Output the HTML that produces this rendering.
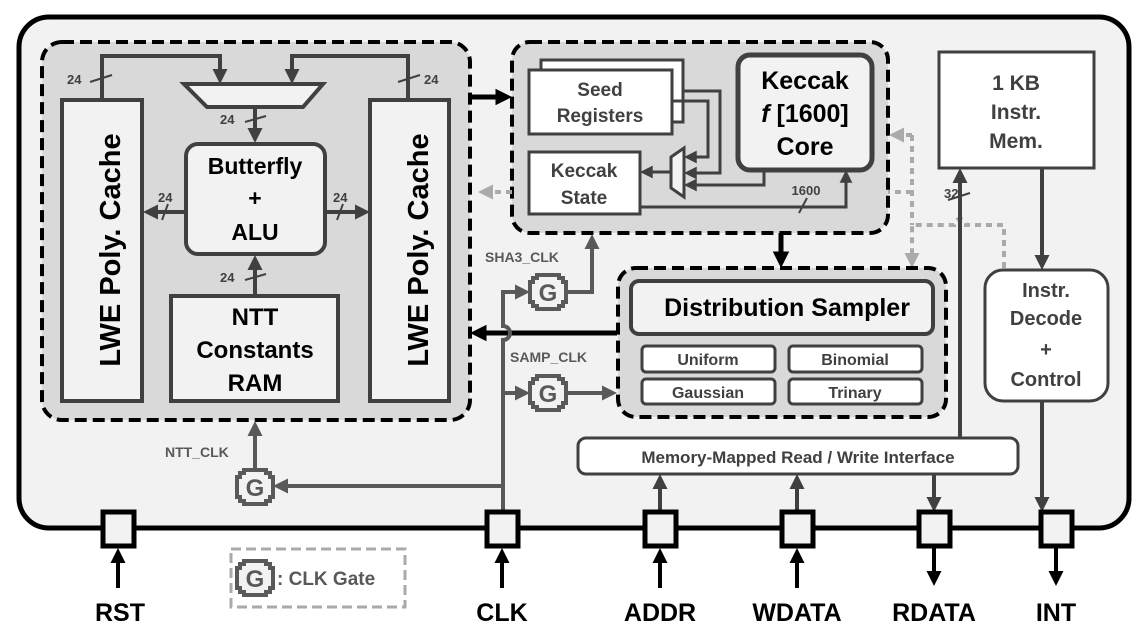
<!DOCTYPE html>
<html><head><meta charset="utf-8"><style>
html,body{margin:0;padding:0;background:#fff;}
svg{display:block;font-family:"Liberation Sans",sans-serif;font-weight:bold;}
</style></head><body>
<svg width="1145" height="639" viewBox="0 0 1145 639" xmlns="http://www.w3.org/2000/svg">
<defs>
<path id="a" d="M0,0 L-15,-7.5 L-15,7.5 z"/>
<g id="gate"><path d="M-11,-17 H11 V-14 H15 V-10 H18 V10 H15 V14 H11 V17 H-11 V14 H-15 V10 H-18 V-10 H-15 V-14 H-11 z" fill="#f2f2f2" stroke="#595959" stroke-width="4"/><text x="0" y="9" font-size="24" text-anchor="middle" fill="#595959">G</text></g>
</defs>
<rect width="1145" height="639" fill="#fff"/>
<rect x="19" y="17" width="1110" height="511" rx="30" fill="#f2f2f2" stroke="#000" stroke-width="5"/>

<rect x="42" y="42" width="428" height="378" rx="20" fill="#d9d9d9" stroke="#000" stroke-width="4" stroke-dasharray="12,6"/>
<g stroke="#404040" stroke-width="4" fill="none">
<path d="M102,100 V56 H220 V74"/>
<path d="M408,100 V56 H292 V74"/>
<path d="M255,107 V133"/>
<path d="M185,212 H153"/>
<path d="M325,212 H360"/>
<path d="M255,295 V265"/>
</g>
<g fill="#404040">
<use href="#a" transform="translate(220,84) rotate(90)"/>
<use href="#a" transform="translate(292,84) rotate(90)"/>
<use href="#a" transform="translate(255,143) rotate(90)"/>
<use href="#a" transform="translate(143,212) rotate(180)"/>
<use href="#a" transform="translate(370,212)"/>
<use href="#a" transform="translate(255,255) rotate(-90)"/>
</g>
<g stroke="#404040" stroke-width="2">
<line x1="90" y1="82" x2="112" y2="75"/><line x1="398" y1="82" x2="420" y2="75"/>
<line x1="245" y1="122" x2="266" y2="116"/><line x1="162" y1="220" x2="168" y2="204"/>
<line x1="337" y1="220" x2="343" y2="204"/><line x1="245" y1="280" x2="266" y2="274"/>
</g>
<g font-size="13" fill="#404040">
<text x="67" y="84">24</text><text x="424" y="84">24</text><text x="220" y="124">24</text>
<text x="158" y="202">24</text><text x="333" y="202">24</text><text x="220" y="282">24</text>
</g>
<path d="M184,84 H323 L303,107 H207 z" fill="#f2f2f2" stroke="#404040" stroke-width="4"/>
<rect x="62" y="100" width="80" height="301" fill="#f2f2f2" stroke="#404040" stroke-width="4"/>
<rect x="370" y="100" width="79" height="301" fill="#f2f2f2" stroke="#404040" stroke-width="4"/>
<text transform="translate(120,250) rotate(-90)" font-size="29" text-anchor="middle" fill="#000">LWE Poly. Cache</text>
<text transform="translate(428,250) rotate(-90)" font-size="29" text-anchor="middle" fill="#000">LWE Poly. Cache</text>
<rect x="186" y="144" width="139" height="110" rx="12" fill="#f2f2f2" stroke="#404040" stroke-width="4"/>
<g font-size="23" text-anchor="middle" fill="#000">
<text x="255" y="174">Butterfly</text><text x="255" y="206">+</text><text x="255" y="240">ALU</text>
</g>
<rect x="171" y="296" width="167" height="105" fill="#f2f2f2" stroke="#404040" stroke-width="4"/>
<g font-size="24" text-anchor="middle" fill="#000">
<text x="255" y="325">NTT</text><text x="255" y="358">Constants</text><text x="255" y="391">RAM</text>
</g>

<rect x="512" y="42" width="376" height="191" rx="18" fill="#d9d9d9" stroke="#000" stroke-width="4" stroke-dasharray="12,6"/>
<rect x="541" y="60" width="142" height="62" fill="#fff" stroke="#404040" stroke-width="3"/>
<rect x="529" y="70" width="143" height="64" fill="#fff" stroke="#404040" stroke-width="3"/>
<g font-size="19" text-anchor="middle" fill="#404040"><text x="600" y="96">Seed</text><text x="600" y="122">Registers</text></g>
<rect x="529" y="152" width="111" height="62" fill="#fff" stroke="#404040" stroke-width="3"/>
<g font-size="19" text-anchor="middle" fill="#404040"><text x="584" y="177">Keccak</text><text x="584" y="204">State</text></g>
<rect x="738" y="55" width="134" height="115" rx="12" fill="#f2f2f2" stroke="#404040" stroke-width="5"/>
<g font-size="25" text-anchor="middle" fill="#000"><text x="805" y="89">Keccak</text><text x="805" y="122"><tspan font-style="italic">f</tspan> [1600]</text><text x="805" y="155">Core</text></g>
<g stroke="#404040" stroke-width="3" fill="none">
<path d="M683,91 H720 V173 H694"/>
<path d="M672,101 H708 V157 H694"/>
<path d="M764,170 V185 H694"/>
<path d="M671,172 H650"/>
<path d="M640,207 H846 V180"/>
<line x1="799" y1="213" x2="807" y2="198" stroke-width="2"/>
</g>
<g fill="#404040">
<use href="#a" transform="translate(684,173) rotate(180) scale(0.85)"/>
<use href="#a" transform="translate(684,157) rotate(180) scale(0.85)"/>
<use href="#a" transform="translate(684,185) rotate(180) scale(0.85)"/>
<use href="#a" transform="translate(640,172) rotate(180) scale(0.85)"/>
<use href="#a" transform="translate(846,170) rotate(-90) scale(0.85)"/>
</g>
<text x="806" y="195" font-size="13" text-anchor="middle" fill="#404040">1600</text>
<path d="M671,157 L684,148 V197 L671,188 z" fill="#f2f2f2" stroke="#404040" stroke-width="3"/>

<g stroke="#000" stroke-width="5" fill="none">
<path d="M470,97 H500"/>
<path d="M781,233 V256"/>
<path d="M617,333 H483"/>
</g>
<g fill="#000">
<use href="#a" transform="translate(512,97) scale(1.1)"/>
<use href="#a" transform="translate(781,268) rotate(90) scale(1.1)"/>
<use href="#a" transform="translate(470,333) rotate(180) scale(1.1)"/>
</g>

<g stroke="#aaa" stroke-width="4" fill="none" stroke-dasharray="6,5">
<path d="M1004,268 V225 H966 a6,6 0 0 0 -12,0 H912 V256"/>
<path d="M912,135 H899"/>
<path d="M912,135 V225"/>
<path d="M912,192 H888"/>
<path d="M512,192 H488"/>
</g>
<g fill="#aaa">
<use href="#a" transform="translate(912,268) rotate(90)"/>
<use href="#a" transform="translate(889,135) rotate(180)"/>
<use href="#a" transform="translate(478,192) rotate(180)"/>
</g>

<rect x="618" y="268" width="328" height="149" rx="18" fill="#d9d9d9" stroke="#000" stroke-width="4" stroke-dasharray="12,6"/>
<rect x="631" y="281" width="302" height="53" rx="8" fill="#f2f2f2" stroke="#404040" stroke-width="4"/>
<text x="787" y="316" font-size="25" text-anchor="middle" fill="#000">Distribution Sampler</text>
<g fill="#fff" stroke="#404040" stroke-width="3">
<rect x="642" y="346" width="133" height="26" rx="4"/><rect x="789" y="346" width="133" height="26" rx="4"/>
<rect x="642" y="379" width="133" height="25" rx="4"/><rect x="789" y="379" width="133" height="25" rx="4"/>
</g>
<g font-size="16" text-anchor="middle" fill="#404040">
<text x="708" y="365">Uniform</text><text x="855" y="365">Binomial</text>
<text x="708" y="398">Gaussian</text><text x="855" y="398">Trinary</text>
</g>

<rect x="939" y="52" width="155" height="116" fill="#fff" stroke="#404040" stroke-width="3"/>
<g font-size="21" text-anchor="middle" fill="#404040"><text x="1016" y="90">1 KB</text><text x="1016" y="119">Instr.</text><text x="1016" y="148">Mem.</text></g>
<rect x="985" y="270" width="123" height="131" rx="18" fill="#fff" stroke="#404040" stroke-width="3"/>
<g font-size="20" text-anchor="middle" fill="#404040"><text x="1046" y="297">Instr.</text><text x="1046" y="325">Decode</text><text x="1046" y="356">+</text><text x="1046" y="386">Control</text></g>
<g stroke="#404040" stroke-width="4" fill="none">
<path d="M960,438 V178"/>
<path d="M1042,168 V258"/>
<path d="M1042,401 V500"/>
<path d="M660,512 V486"/>
<path d="M797,512 V486"/>
<path d="M934,474 V500"/>
<line x1="948" y1="200" x2="970" y2="193" stroke-width="2"/>
</g>
<g fill="#404040">
<use href="#a" transform="translate(960,168) rotate(-90)"/>
<use href="#a" transform="translate(1042,270) rotate(90)"/>
<use href="#a" transform="translate(1042,512) rotate(90)"/>
<use href="#a" transform="translate(660,474) rotate(-90)"/>
<use href="#a" transform="translate(797,474) rotate(-90)"/>
<use href="#a" transform="translate(934,512) rotate(90)"/>
</g>
<text x="944" y="198" font-size="13" fill="#404040">32</text>
<rect x="578" y="438" width="440" height="36" rx="8" fill="#fff" stroke="#404040" stroke-width="3"/>
<text x="798" y="463" font-size="17" text-anchor="middle" fill="#404040">Memory-Mapped Read / Write Interface</text>

<g stroke="#595959" stroke-width="4" fill="none">
<path d="M503,512 V340 a7,7 0 0 0 0,-14 V292 H520"/>
<path d="M503,393 H520"/>
<path d="M566,393 H605"/>
<path d="M566,292 H592 V246"/>
<path d="M503,486 H285"/>
<path d="M255,470 V433"/>
</g>
<g fill="#595959">
<use href="#a" transform="translate(530,292)"/>
<use href="#a" transform="translate(530,393)"/>
<use href="#a" transform="translate(617,393)"/>
<use href="#a" transform="translate(592,234) rotate(-90)"/>
<use href="#a" transform="translate(273,486) rotate(180)"/>
<use href="#a" transform="translate(255,421) rotate(-90)"/>
</g>
<use href="#gate" x="548" y="292"/>
<use href="#gate" x="548" y="393"/>
<use href="#gate" x="255" y="487"/>
<g font-size="14" fill="#595959">
<text x="485" y="262">SHA3_CLK</text><text x="510" y="362">SAMP_CLK</text><text x="165" y="457">NTT_CLK</text>
</g>

<g fill="#f2f2f2" stroke="#000" stroke-width="5">
<rect x="103" y="512" width="31" height="34"/><rect x="487" y="512" width="31" height="34"/>
<rect x="645" y="512" width="31" height="34"/><rect x="782" y="512" width="31" height="34"/>
<rect x="919" y="512" width="31" height="34"/><rect x="1041" y="512" width="31" height="34"/>
</g>
<g stroke="#000" stroke-width="4" fill="none">
<path d="M118,588 V560"/><path d="M502,588 V560"/>
<path d="M660,588 V560"/><path d="M797,588 V560"/>
<path d="M934,546 V574"/><path d="M1056,546 V574"/>
</g>
<g fill="#000">
<use href="#a" transform="translate(118,548) rotate(-90)"/>
<use href="#a" transform="translate(502,548) rotate(-90)"/>
<use href="#a" transform="translate(660,548) rotate(-90)"/>
<use href="#a" transform="translate(797,548) rotate(-90)"/>
<use href="#a" transform="translate(934,586) rotate(90)"/>
<use href="#a" transform="translate(1056,586) rotate(90)"/>
</g>
<g font-size="25" text-anchor="middle" fill="#000">
<text x="120" y="621">RST</text><text x="502" y="621">CLK</text><text x="660" y="621">ADDR</text>
<text x="797" y="621">WDATA</text><text x="934" y="621">RDATA</text><text x="1056" y="621">INT</text>
</g>
<rect x="231" y="549" width="174" height="58" fill="none" stroke="#aaa" stroke-width="3" stroke-dasharray="10,5"/>
<use href="#gate" x="255" y="578"/>
<text x="277" y="585" font-size="19" fill="#595959">: CLK Gate</text>
</svg>
</body></html>
